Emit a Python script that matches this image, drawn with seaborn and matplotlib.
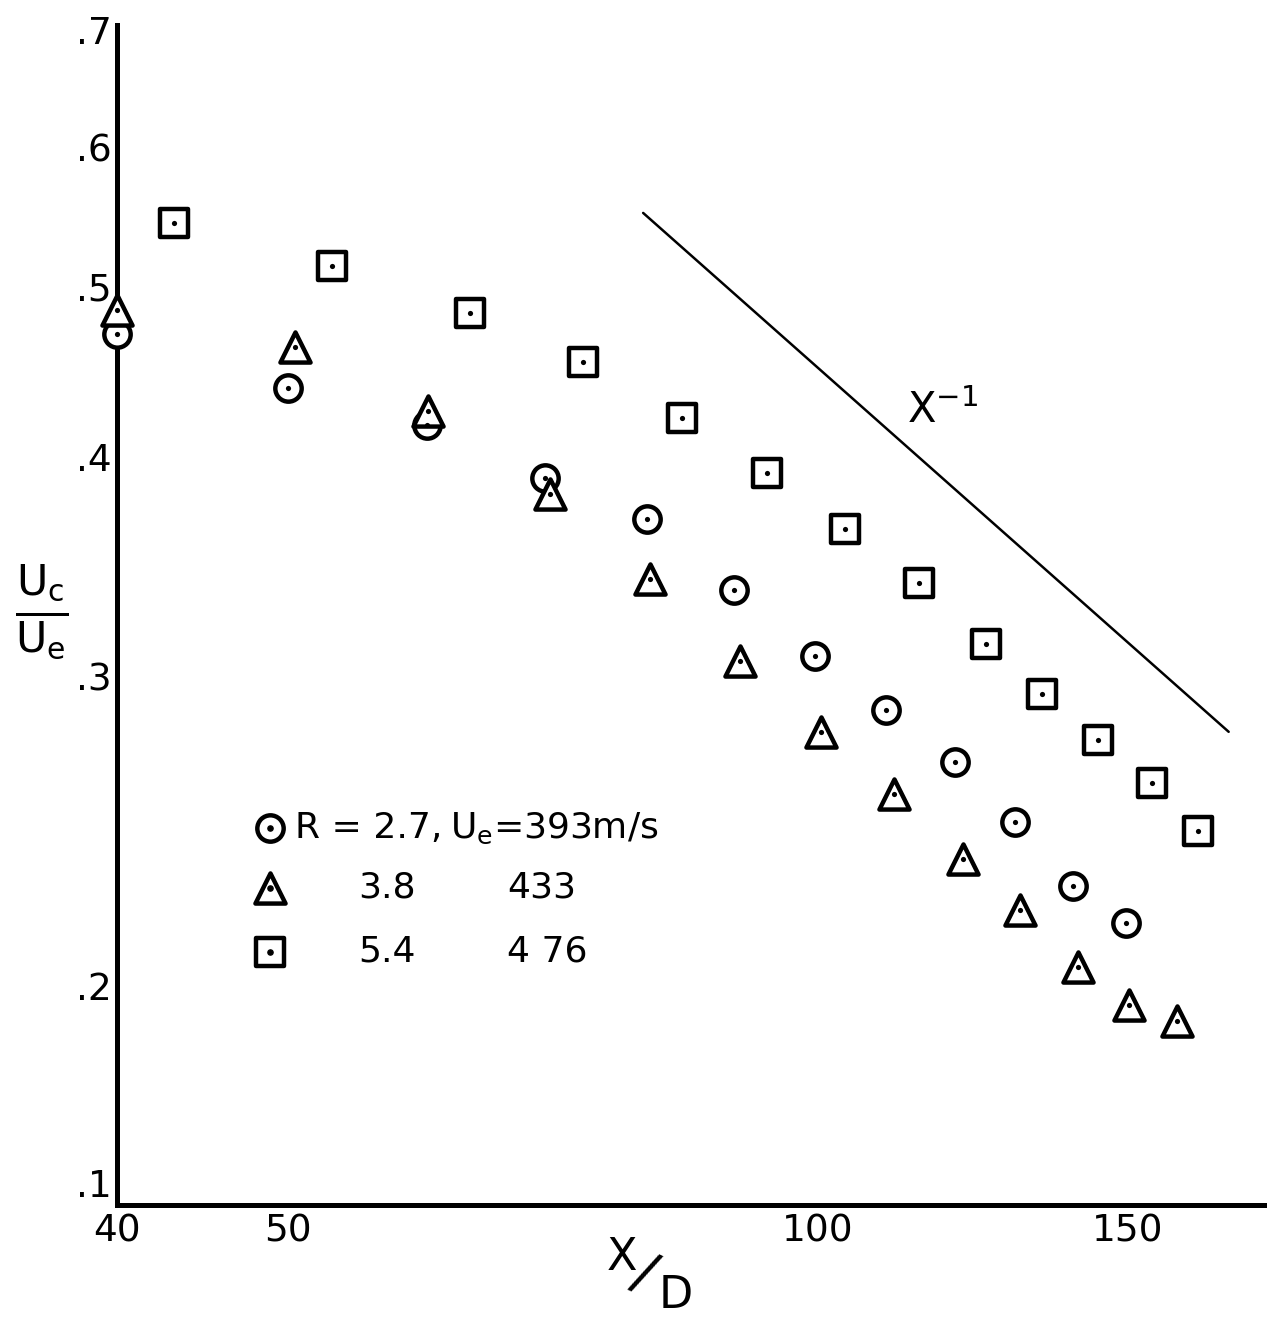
import numpy as np
import pandas as pd
import matplotlib
matplotlib.use("Agg")
import matplotlib.pyplot as plt
import seaborn as sns
from matplotlib.ticker import FixedLocator, FixedFormatter, NullLocator

# Centreline velocity decay U_c/U_e against X/D for three jets
x_circle = [40, 50, 60, 70, 80, 89.6, 99.6, 109.4, 119.7, 129.5, 139.6, 149.7]
y_circle = [0.470, 0.438, 0.417, 0.389, 0.369, 0.336, 0.308, 0.287, 0.268, 0.248, 0.228, 0.217]

x_tri = [40, 50.5, 60.1, 70.5, 80.3, 90.4, 100.4, 110.5, 120.9, 130.3, 140.5, 150.2, 160.0]
y_tri = [0.485, 0.462, 0.425, 0.381, 0.341, 0.306, 0.279, 0.257, 0.236, 0.221, 0.205, 0.195, 0.191]

x_sq = [43.1, 53.0, 63.5, 73.6, 83.7, 93.6, 103.7, 114.2, 124.7, 134.1, 144.3, 154.8, 164.5]
y_sq = [0.544, 0.514, 0.483, 0.453, 0.421, 0.392, 0.364, 0.339, 0.313, 0.293, 0.276, 0.261, 0.245]

# X^-1 reference slope
x_ref = [79.6, 171.2]
y_ref = [0.551, 0.279]

x_ticks = [40, 50, 60, 70, 80, 90, 100, 150]
x_ticklabels = ["40", "50", "", "", "", "", "100", "150"]
y_ticks = [0.150, 0.2, 0.3, 0.4, 0.5, 0.6, 0.7]
y_ticklabels = [".1", ".2", ".3", ".4", ".5", ".6", ".7"]

legend_r = ["R = 2.7,", "3.8", "5.4"]
legend_ue = [r"$\mathrm{U_e}$=393m/s", "433", "4 76"]

sns.set_style("white")
plt.rcParams["font.family"] = ["DejaVu Sans"]
plt.rcParams["mathtext.fontset"] = "dejavusans"
plt.rcParams["text.color"] = "black"
plt.rcParams["axes.labelcolor"] = "black"
plt.rcParams["xtick.color"] = "black"
plt.rcParams["ytick.color"] = "black"

W, H = 1267, 1317
fig = plt.figure(figsize=(W / 100, H / 100), dpi=100)
ax = fig.add_axes([117 / W, 1 - 1205 / H, (W - 117) / W, (1205 - 25) / H])
ax.set_xscale("log")
ax.set_yscale("log")
ax.set_xlim(40, 180)
ax.set_ylim(0.150, 0.705)

frames = {
    "o": pd.DataFrame({"x": x_circle, "y": y_circle}),
    "^": pd.DataFrame({"x": x_tri, "y": y_tri}),
    "s": pd.DataFrame({"x": x_sq, "y": y_sq}),
}
sizes = {"o": 360, "^": 470, "s": 400}
for m, df in frames.items():
    sns.scatterplot(data=df, x="x", y="y", marker=m, s=sizes[m], color="white",
                    edgecolor="black", linewidth=3.2, ax=ax, clip_on=False, zorder=3)
    sns.scatterplot(data=df, x="x", y="y", marker="o", s=14, color="black",
                    edgecolor="black", linewidth=0, ax=ax, clip_on=False, zorder=4)

ref = pd.DataFrame({"x": x_ref, "y": y_ref})
sns.lineplot(data=ref, x="x", y="y", color="black", linewidth=1.8, ax=ax)
ax.text(117.7, 0.425, "X$^{-1}$", fontsize=30, ha="center", va="center")

ax.xaxis.set_major_locator(FixedLocator(x_ticks))
ax.xaxis.set_major_formatter(FixedFormatter(x_ticklabels))
ax.xaxis.set_minor_locator(NullLocator())
ax.yaxis.set_major_locator(FixedLocator(y_ticks))
ax.yaxis.set_major_formatter(FixedFormatter(y_ticklabels))
ax.yaxis.set_minor_locator(NullLocator())

for side in ["top", "right"]:
    ax.spines[side].set_visible(False)
for side in ["left", "bottom"]:
    ax.spines[side].set_linewidth(3.6)
    ax.spines[side].set_color("black")
ax.tick_params(axis="both", direction="in", length=14, width=2.2, labelsize=27,
               colors="black", pad=6)
ax.tick_params(axis="y", pad=4)
ax.set_xlabel("")
ax.set_ylabel("")

# lift the false-origin label clear of the "40" below it
fig.canvas.draw()
ax.get_yticklabels()[0].set_verticalalignment("bottom")

fig.text(42 / W, 1 - 612 / H, r"$\frac{\mathrm{U_c}}{\mathrm{U_e}}$", fontsize=44,
         ha="center", va="center")
fig.text(622 / W, 1 - 1257 / H, "X", fontsize=32, ha="center", va="center")
fig.text(644 / W, 1 - 1274 / H, "/", fontsize=40, ha="center", va="center", rotation=-25)
fig.text(676 / W, 1 - 1296 / H, "D", fontsize=32, ha="center", va="center")

# key
rows_y = [828, 888, 952]
key_markers = ["o", "^", "s"]
for m, py, lr, lu in zip(key_markers, rows_y, legend_r, legend_ue):
    fx, fy = 270 / W, 1 - py / H
    ax.scatter([fx], [fy], marker=m, s=sizes[m], facecolor="white", edgecolor="black",
               linewidth=3.2, transform=fig.transFigure, clip_on=False, zorder=5)
    ax.scatter([fx], [fy], marker="o", s=14, color="black",
               transform=fig.transFigure, clip_on=False, zorder=6)
    if lr.startswith("R"):
        fig.text(295 / W, fy, lr, fontsize=26, ha="left", va="center")
        fig.text(450 / W, fy, lu, fontsize=26, ha="left", va="center")
    else:
        fig.text(358 / W, fy, lr, fontsize=26, ha="left", va="center")
        fig.text(507 / W, fy, lu, fontsize=26, ha="left", va="center")

fig.savefig("out.png", dpi=100, facecolor="white")
